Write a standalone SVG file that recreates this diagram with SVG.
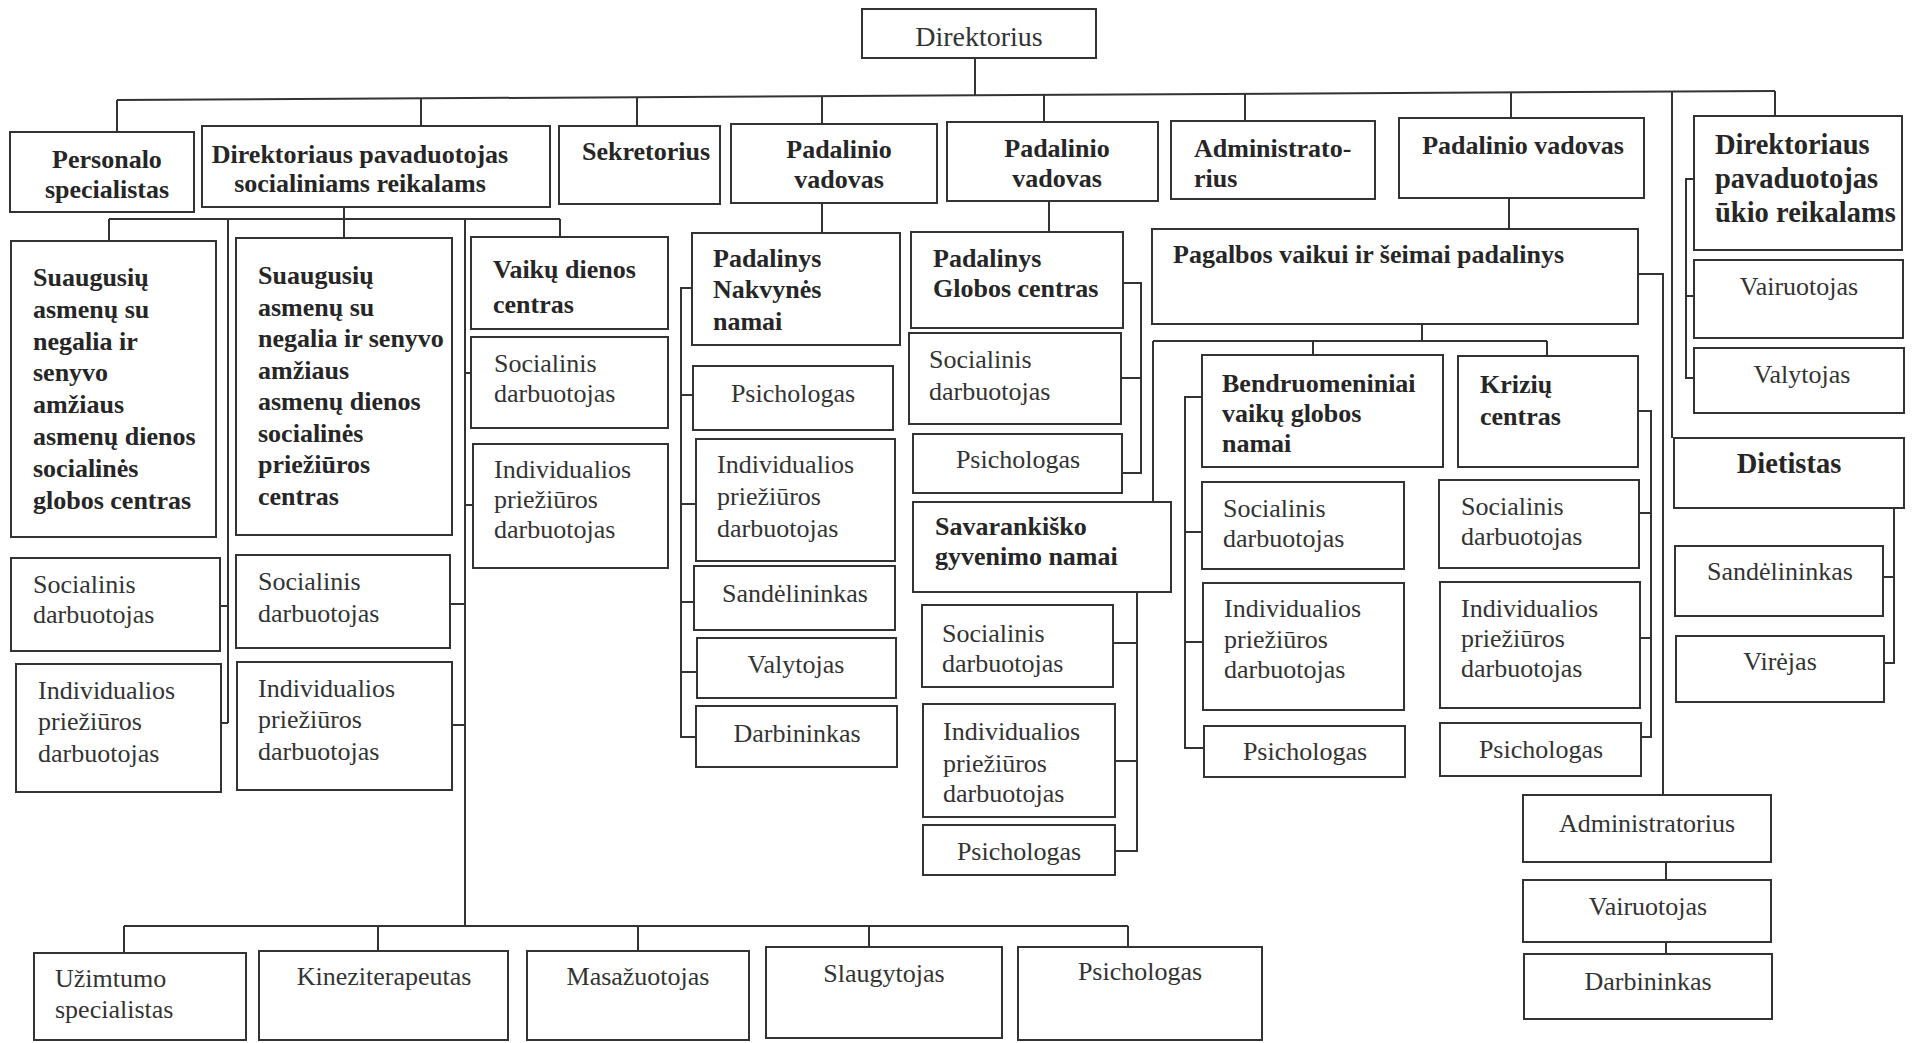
<svg xmlns="http://www.w3.org/2000/svg" width="1914" height="1043" viewBox="0 0 1914 1043">
<style>
rect{fill:#fff;stroke:#333;stroke-width:2}
text{font-family:"Liberation Serif","Times New Roman",serif;font-size:26px;fill:#333}
.bd{font-weight:bold;fill:#262626}
.c{text-anchor:middle}
.big{font-size:28.5px}
#connectors path{fill:none;stroke:#333;stroke-width:2}
</style>
<rect x="0" y="0" width="1914" height="1043" style="fill:#fff;stroke:none"/>
<g id="connectors">
<path d="M975,58V95.3"/>
<path d="M117,100L1775,91"/>
<path d="M117,100V132M421,98.3V126M637,97.2V126M822,96.2V124M1044,95V122M1245,93.9V121M1511,92.4V118M1672,91.6V438M1775,91V116"/>
<path d="M344,207V219M109,219H560M109,219V241M344,219V238M560,219V237M228,219V723M465,219V926"/>
<path d="M220,606H228M221,723H228M450,604H465M452,725H465M465,373H471M465,505H473"/>
<path d="M124,926H1128M124,926V953M378,926V951M638,926V951M869,926V947M1128,926V947"/>
<path d="M822,203V233M692,288H681V737H696M681,395H693M681,504H696M681,602H694M681,672H697"/>
<path d="M1049,201V232M1123,283H1141V473H1122M1121,378H1141"/>
<path d="M1509,198V229M1638,274H1663V795M1422,324V341M1153,341H1547M1153,341V502M1313,341V355M1547,341V356"/>
<path d="M1137,592V851H1115M1113,643H1137M1115,761H1137"/>
<path d="M1202,397H1185V748H1204M1185,532H1202M1185,642H1203"/>
<path d="M1638,411H1651V737H1641M1639,513H1651M1640,638H1651"/>
<path d="M1694,179H1686V378H1694M1686,296H1694"/>
<path d="M1894,508V663H1884M1883,577H1894"/>
<path d="M1666,862V880M1666,942V954"/>
</g>
<g id="n-direktorius"><rect x="862" y="9" width="234" height="49"/><text class="c" x="979" y="46" style="font-size:28px">Direktorius</text></g>
<g id="n-personalo"><rect x="10" y="132" width="184" height="80"/><text class="bd c" x="107" y="168">Personalo</text><text class="bd c" x="107" y="198">specialistas</text></g>
<g id="n-dir-pav-soc"><rect x="202" y="126" width="348" height="81"/><text class="bd c" x="360" y="163">Direktoriaus pavaduotojas</text><text class="bd c" x="360" y="192">socialiniams reikalams</text></g>
<g id="n-sekretorius"><rect x="559" y="126" width="161" height="78"/><text class="bd c" x="646" y="160">Sekretorius</text></g>
<g id="n-pv1"><rect x="731" y="124" width="206" height="79"/><text class="bd c" x="839" y="158">Padalinio</text><text class="bd c" x="839" y="188">vadovas</text></g>
<g id="n-pv2"><rect x="947" y="122" width="211" height="79"/><text class="bd c" x="1057" y="157">Padalinio</text><text class="bd c" x="1057" y="187">vadovas</text></g>
<g id="n-admin"><rect x="1171" y="121" width="204" height="78"/><text class="bd" x="1194" y="157">Administrato-</text><text class="bd" x="1194" y="187">rius</text></g>
<g id="n-pv3"><rect x="1399" y="118" width="245" height="80"/><text class="bd c" x="1523" y="154">Padalinio vadovas</text></g>
<g id="n-dir-pav-ukio"><rect x="1694" y="116" width="208" height="134"/><text class="bd big" x="1715" y="154">Direktoriaus</text><text class="bd big" x="1715" y="188">pavaduotojas</text><text class="bd big" x="1715" y="222">ūkio reikalams</text></g>
<g id="n-suaug1"><rect x="11" y="241" width="205" height="296"/><text class="bd" x="33" y="286">Suaugusių</text><text class="bd" x="33" y="318">asmenų su</text><text class="bd" x="33" y="350">negalia ir</text><text class="bd" x="33" y="381">senyvo</text><text class="bd" x="33" y="413">amžiaus</text><text class="bd" x="33" y="445">asmenų dienos</text><text class="bd" x="33" y="477">socialinės</text><text class="bd" x="33" y="509">globos centras</text></g>
<g id="n-suaug1-soc"><rect x="11" y="558" width="209" height="93"/><text x="33" y="593">Socialinis</text><text x="33" y="623">darbuotojas</text></g>
<g id="n-suaug1-ind"><rect x="16" y="664" width="205" height="128"/><text x="38" y="699">Individualios</text><text x="38" y="730">priežiūros</text><text x="38" y="762">darbuotojas</text></g>
<g id="n-suaug2"><rect x="236" y="238" width="216" height="297"/><text class="bd" x="258" y="284">Suaugusių</text><text class="bd" x="258" y="315.5">asmenų su</text><text class="bd" x="258" y="347">negalia ir senyvo</text><text class="bd" x="258" y="378.5">amžiaus</text><text class="bd" x="258" y="410">asmenų dienos</text><text class="bd" x="258" y="441.5">socialinės</text><text class="bd" x="258" y="473">priežiūros</text><text class="bd" x="258" y="504.5">centras</text></g>
<g id="n-suaug2-soc"><rect x="236" y="555" width="214" height="93"/><text x="258" y="590">Socialinis</text><text x="258" y="622">darbuotojas</text></g>
<g id="n-suaug2-ind"><rect x="237" y="662" width="215" height="128"/><text x="258" y="697">Individualios</text><text x="258" y="728">priežiūros</text><text x="258" y="760">darbuotojas</text></g>
<g id="n-vaiku"><rect x="471" y="237" width="197" height="92"/><text class="bd" x="493" y="278">Vaikų dienos</text><text class="bd" x="493" y="313">centras</text></g>
<g id="n-vaiku-soc"><rect x="471" y="337" width="197" height="91"/><text x="494" y="372">Socialinis</text><text x="494" y="402">darbuotojas</text></g>
<g id="n-vaiku-ind"><rect x="473" y="444" width="195" height="124"/><text x="494" y="478">Individualios</text><text x="494" y="508">priežiūros</text><text x="494" y="538">darbuotojas</text></g>
<g id="n-nakvynes"><rect x="692" y="233" width="208" height="112"/><text class="bd" x="713" y="267">Padalinys</text><text class="bd" x="713" y="298">Nakvynės</text><text class="bd" x="713" y="330">namai</text></g>
<g id="n-nakv-psich"><rect x="693" y="366" width="200" height="64"/><text class="c" x="793" y="402">Psichologas</text></g>
<g id="n-nakv-ind"><rect x="696" y="439" width="199" height="122"/><text x="717" y="473">Individualios</text><text x="717" y="505">priežiūros</text><text x="717" y="537">darbuotojas</text></g>
<g id="n-nakv-sand"><rect x="694" y="566" width="201" height="64"/><text class="c" x="795" y="602">Sandėlininkas</text></g>
<g id="n-nakv-valyt"><rect x="697" y="638" width="199" height="60"/><text class="c" x="796" y="673">Valytojas</text></g>
<g id="n-nakv-darb"><rect x="696" y="706" width="201" height="61"/><text class="c" x="797" y="742">Darbininkas</text></g>
<g id="n-globos"><rect x="911" y="232" width="212" height="96"/><text class="bd" x="933" y="267">Padalinys</text><text class="bd" x="933" y="297">Globos centras</text></g>
<g id="n-glob-soc"><rect x="909" y="333" width="212" height="91"/><text x="929" y="368">Socialinis</text><text x="929" y="400">darbuotojas</text></g>
<g id="n-glob-psich"><rect x="913" y="434" width="209" height="59"/><text class="c" x="1018" y="468">Psichologas</text></g>
<g id="n-savar"><rect x="913" y="502" width="258" height="90"/><text class="bd" x="935" y="535">Savarankiško</text><text class="bd" x="935" y="565">gyvenimo namai</text></g>
<g id="n-savar-soc"><rect x="922" y="605" width="191" height="82"/><text x="942" y="642">Socialinis</text><text x="942" y="672">darbuotojas</text></g>
<g id="n-savar-ind"><rect x="923" y="704" width="192" height="113"/><text x="943" y="740">Individualios</text><text x="943" y="772">priežiūros</text><text x="943" y="802">darbuotojas</text></g>
<g id="n-savar-psich"><rect x="923" y="825" width="192" height="50"/><text class="c" x="1019" y="860">Psichologas</text></g>
<g id="n-pagalbos"><rect x="1152" y="229" width="486" height="95"/><text class="bd" x="1173" y="263">Pagalbos vaikui ir šeimai padalinys</text></g>
<g id="n-bendr"><rect x="1202" y="355" width="241" height="112"/><text class="bd" x="1222" y="392">Bendruomeniniai</text><text class="bd" x="1222" y="422">vaikų globos</text><text class="bd" x="1222" y="452">namai</text></g>
<g id="n-bendr-soc"><rect x="1202" y="482" width="202" height="87"/><text x="1223" y="517">Socialinis</text><text x="1223" y="547">darbuotojas</text></g>
<g id="n-bendr-ind"><rect x="1203" y="583" width="201" height="127"/><text x="1224" y="617">Individualios</text><text x="1224" y="648">priežiūros</text><text x="1224" y="678">darbuotojas</text></g>
<g id="n-bendr-psich"><rect x="1204" y="726" width="201" height="51"/><text class="c" x="1305" y="760">Psichologas</text></g>
<g id="n-kriziu"><rect x="1458" y="356" width="180" height="111"/><text class="bd" x="1480" y="393">Krizių</text><text class="bd" x="1480" y="425">centras</text></g>
<g id="n-kriz-soc"><rect x="1439" y="480" width="200" height="88"/><text x="1461" y="515">Socialinis</text><text x="1461" y="545">darbuotojas</text></g>
<g id="n-kriz-ind"><rect x="1440" y="582" width="200" height="126"/><text x="1461" y="617">Individualios</text><text x="1461" y="647">priežiūros</text><text x="1461" y="677">darbuotojas</text></g>
<g id="n-kriz-psich"><rect x="1440" y="723" width="201" height="53"/><text class="c" x="1541" y="758">Psichologas</text></g>
<g id="n-ukio-vair"><rect x="1694" y="260" width="209" height="78"/><text class="c" x="1799" y="295">Vairuotojas</text></g>
<g id="n-ukio-valyt"><rect x="1694" y="348" width="210" height="65"/><text class="c" x="1802" y="383">Valytojas</text></g>
<g id="n-dietistas"><rect x="1674" y="438" width="230" height="70"/><text class="bd c big" x="1789" y="473">Dietistas</text></g>
<g id="n-diet-sand"><rect x="1675" y="546" width="208" height="70"/><text class="c" x="1780" y="580">Sandėlininkas</text></g>
<g id="n-diet-vir"><rect x="1676" y="636" width="208" height="66"/><text class="c" x="1780" y="670">Virėjas</text></g>
<g id="n-administratorius"><rect x="1523" y="795" width="248" height="67"/><text class="c" x="1647" y="832">Administratorius</text></g>
<g id="n-adm-vair"><rect x="1523" y="880" width="248" height="62"/><text class="c" x="1648" y="915">Vairuotojas</text></g>
<g id="n-adm-darb"><rect x="1524" y="954" width="248" height="65"/><text class="c" x="1648" y="990">Darbininkas</text></g>
<g id="n-uzimtumo"><rect x="34" y="953" width="212" height="87"/><text x="55" y="987">Užimtumo</text><text x="55" y="1018">specialistas</text></g>
<g id="n-kinezi"><rect x="259" y="951" width="249" height="89"/><text class="c" x="384" y="985">Kineziterapeutas</text></g>
<g id="n-masaz"><rect x="527" y="951" width="222" height="89"/><text class="c" x="638" y="985">Masažuotojas</text></g>
<g id="n-slaug"><rect x="766" y="947" width="236" height="91"/><text class="c" x="884" y="982">Slaugytojas</text></g>
<g id="n-psich-bottom"><rect x="1018" y="947" width="244" height="93"/><text class="c" x="1140" y="980">Psichologas</text></g>
</svg>
